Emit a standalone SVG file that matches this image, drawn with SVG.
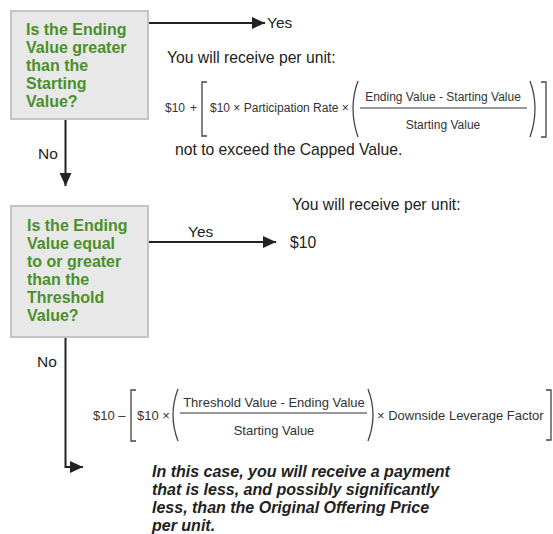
<svg xmlns="http://www.w3.org/2000/svg" width="553" height="534" viewBox="0 0 553 534">
<defs>
<marker id="ah" markerUnits="userSpaceOnUse" markerWidth="14" markerHeight="12" refX="13" refY="6" orient="auto">
<path d="M0,0 L13,6 L0,12 Z" fill="#222"/>
</marker>
<style>
.box{fill:#e8e8e8;stroke:#c4c4c4;stroke-width:2}
.q{font-family:"Liberation Sans",Arial,sans-serif;font-weight:bold;font-size:16px;fill:#4a9028}
.t{font-family:"Liberation Sans",Arial,sans-serif;font-size:15.7px;fill:#222}
.lbl{font-family:"Liberation Sans",Arial,sans-serif;font-size:15.5px;fill:#222}
.f1{font-family:"Liberation Sans",Arial,sans-serif;font-size:12px;fill:#333}
.f2{font-family:"Liberation Sans",Arial,sans-serif;font-size:13px;fill:#333}
.br{fill:none;stroke:#444;stroke-width:1.3}
.ln{fill:none;stroke:#333;stroke-width:1.2}
.c{fill:none;stroke:#222;stroke-width:2}
.note{font-family:"Liberation Sans",Arial,sans-serif;font-weight:bold;font-style:italic;font-size:16px;fill:#222}
</style>
</defs>

<g id="connectors">
<line class="c" x1="148" y1="23" x2="265" y2="23" marker-end="url(#ah)"/>
<line class="c" x1="65.5" y1="119" x2="65.5" y2="186" marker-end="url(#ah)"/>
<line class="c" x1="148" y1="242" x2="276" y2="242" marker-end="url(#ah)"/>
<polyline class="c" points="65.5,337 65.5,467 83,467" marker-end="url(#ah)"/>
<text class="lbl" x="267" y="28">Yes</text>
<text class="lbl" x="38" y="159">No</text>
<text class="lbl" x="188" y="237">Yes</text>
<text class="lbl" x="37" y="367">No</text>
</g>

<g id="q1">
<rect class="box" x="11" y="11" width="137" height="108"/>
<text class="q" x="26" y="35">Is the Ending</text>
<text class="q" x="26" y="53">Value greater</text>
<text class="q" x="26" y="71">than the</text>
<text class="q" x="26" y="89">Starting</text>
<text class="q" x="26" y="107">Value?</text>
</g>

<g id="result1">
<text class="t" x="167" y="63">You will receive per unit:</text>
<text class="f1" x="165" y="112">$10</text>
<text class="f1" x="190" y="112">+</text>
<path class="br" d="M207,82 H202 V136 H207"/>
<text class="f1" x="210" y="112">$10 × Participation Rate ×</text>
<path class="br" d="M358,81 Q348,108 358,137"/>
<text class="f1" x="443" y="101" text-anchor="middle">Ending Value - Starting Value</text>
<line class="ln" x1="360" y1="108" x2="527" y2="108"/>
<text class="f1" x="443" y="129" text-anchor="middle">Starting Value</text>
<path class="br" d="M530,81 Q540,108 530,137"/>
<path class="br" d="M541,82 H546 V137 H541"/>
<text class="t" x="175" y="155">not to exceed the Capped Value.</text>
</g>

<g id="q2">
<rect class="box" x="11" y="206" width="137" height="131"/>
<text class="q" x="27" y="231">Is the Ending</text>
<text class="q" x="27" y="249">Value equal</text>
<text class="q" x="27" y="267">to or greater</text>
<text class="q" x="27" y="285">than the</text>
<text class="q" x="27" y="303">Threshold</text>
<text class="q" x="27" y="321">Value?</text>
</g>

<g id="result2">
<text class="t" x="292" y="210">You will receive per unit:</text>
<text class="t" x="290" y="248">$10</text>
</g>

<g id="result3">
<text class="f2" x="93" y="420">$10 –</text>
<path class="br" d="M136,390 H131 V441 H136"/>
<text class="f2" x="137" y="420">$10 ×</text>
<path class="br" d="M178,389 Q168,415 178,441"/>
<text class="f2" x="274" y="407" text-anchor="middle">Threshold Value - Ending Value</text>
<line class="ln" x1="180" y1="413" x2="367" y2="413"/>
<text class="f2" x="274" y="435" text-anchor="middle">Starting Value</text>
<path class="br" d="M368,389 Q378,415 368,441"/>
<text class="f2" x="377" y="420">× Downside Leverage Factor</text>
<path class="br" d="M546,390 H551 V440 H546"/>
</g>

<g id="note">
<text class="note" x="152" y="477">In this case, you will receive a payment</text>
<text class="note" x="152" y="495">that is less, and possibly significantly</text>
<text class="note" x="152" y="513">less, than the Original Offering Price</text>
<text class="note" x="152" y="531">per unit.</text>
</g>
</svg>
